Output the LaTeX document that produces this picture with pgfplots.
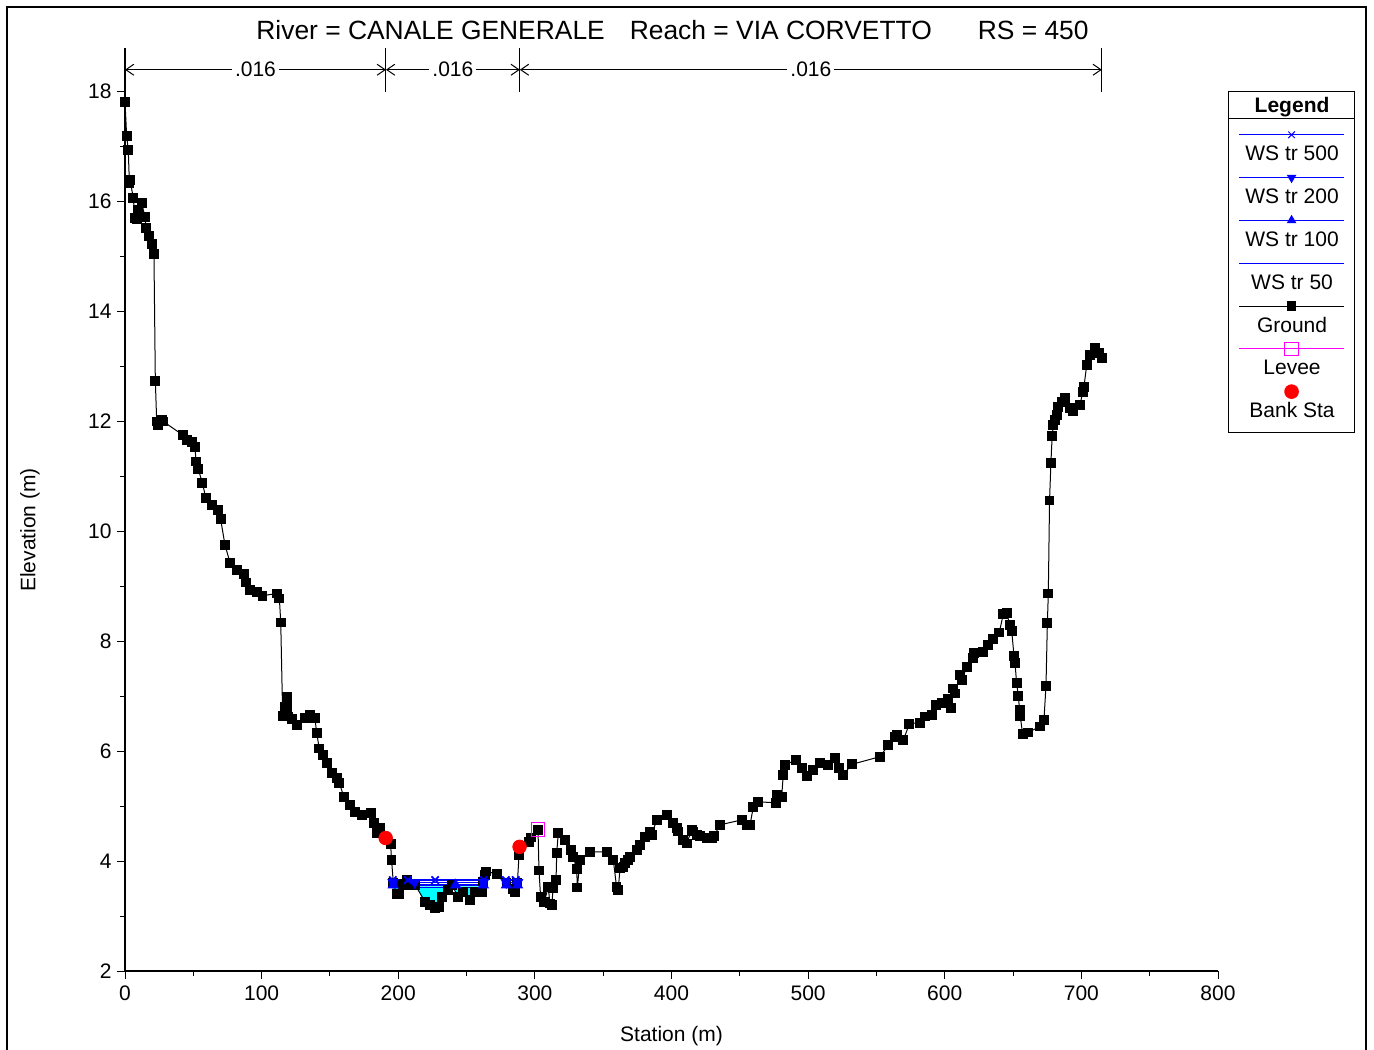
\documentclass[border=0pt]{standalone}
\usepackage{fontspec}
\setmainfont{Liberation Sans}
\usepackage{pgfplots}
\pgfplotsset{compat=1.18}
\usetikzlibrary{arrows.meta}

\definecolor{wsblue}{RGB}{0,0,255}
\definecolor{leveecol}{RGB}{255,0,255}
\definecolor{water}{RGB}{0,255,255}
\definecolor{bankred}{RGB}{255,0,0}

% legend entry: line + mark drawn above the text, centred on the box
\pgfplotsset{
  legline/.style={legend image code/.code={%
    \path (0pt,0pt);
    \draw[overlay,mark repeat=2,mark phase=2,##1]
      plot coordinates {(5pt,13pt) (31.25pt,13pt) (57.5pt,13pt)};}},
}

\begin{document}
\begin{tikzpicture}[font=\fontsize{10.5}{12.6}\selectfont]
\useasboundingbox (0pt,0pt) rectangle (687pt,-524.5pt);
\draw[line width=0.9pt] (3.5pt,-540pt) -- (3.5pt,-3.5pt) -- (683pt,-3.5pt) -- (683pt,-540pt);
\node[anchor=base west, font=\fontsize{13.2}{15}\selectfont, inner sep=0pt]
  at (128pt,-19.75pt) {River = CANALE GENERALE\hspace{12.5pt}Reach = VIA CORVETTO\hspace{23pt}RS = 450};

\begin{axis}[
  at={(62.5pt,-485.5pt)}, anchor=south west,
  scale only axis, width=546.5pt, height=461.35pt,
  xmin=0, xmax=800, ymin=2, ymax=18.79,
  axis x line*=bottom, axis y line*=left,
  x axis line style={-}, y axis line style={-},
  axis line style={line width=0.6pt, black},
  xtick={0,100,...,800}, minor xtick={50,150,...,750},
  ytick={2,4,...,18}, minor ytick={3,5,...,17},
  tick align=outside, major tick length=4pt, minor tick length=2.5pt,
  tick style={black, line width=0.5pt},
  /pgf/number format/assume math mode=true,
  tick label style={font=\fontsize{10.5}{12.6}\selectfont},
  yticklabel style={xshift=0.8pt},
  xlabel={Station (m)}, ylabel={Elevation (m)},
  every axis x label/.style={at={(axis description cs:0.5,0)}, anchor=center, yshift=-32.5pt},
  every axis y label/.style={at={(axis description cs:-0.087,0.478)}, rotate=90, anchor=center},
  clip=false,
  unbounded coords=jump,
  legend style={at={(axis description cs:1.0092,0.9537)}, anchor=north west,
    inner sep=0pt, draw=black, line width=0.5pt, fill=white,
    column sep=0pt, row sep=0pt, cells={anchor=base},
    nodes={minimum width=62.5pt, inner sep=0pt, text height=21.15pt, text depth=0.2pt,
      font=\fontsize{10.5}{12.6}\selectfont}},
]

% water under the profiles
\addplot[fill=water, draw=none, forget plot] coordinates {
  (196.3,3.54) (198.8,3.40) (200.8,3.40) (202.5,3.54) (213,3.54)
  (219.6,3.26) (223.2,3.20) (226.9,3.14) (230.0,3.16) (231.8,3.35)
  (236.6,3.47) (238.0,3.54) (240.8,3.54) (244.0,3.35) (247.6,3.44)
  (252.5,3.29) (256.2,3.44) (261.1,3.44) (262.0,3.54)
};
\addplot[fill=water, draw=none, forget plot] coordinates {
  (279.5,3.54) (283.7,3.49) (285.4,3.44) (286.8,3.54)
};

% ground
\addplot[black, line width=0.5pt, mark=square*, mark size=2.2pt,
  mark options={fill=black}, forget plot] coordinates {
  (0,17.82) (1.2,17.20) (2.4,16.94) (3.2,16.34) (3.7,16.40) (6.1,16.06)
  (7.3,15.70) (8.5,15.68) (9.8,15.85) (12.2,15.98) (14.6,15.72) (15.4,15.52)
  (17.8,15.37) (19.5,15.23) (21.2,15.04) (22.2,12.74) (23.2,12.00) (24.4,11.94)
  (26.8,12.02) (28.0,12.00) (42.5,11.75) (45.6,11.66) (48.8,11.63) (51.2,11.54)
  (52.0,11.27) (53.7,11.13) (56.6,10.88) (59.3,10.60) (63.4,10.48) (68.3,10.39)
  (70.0,10.22) (73.2,9.75) (76.9,9.43) (82.2,9.30) (87.1,9.23) (88.6,9.07)
  (91.5,8.93) (96.4,8.89) (100.7,8.83) (111.5,8.87) (113.0,8.78) (114.0,8.34)
  (115.4,6.64) (117.0,6.80) (118.3,6.99) (119.0,6.80) (119.5,6.63) (122.0,6.58)
  (125.7,6.48) (131.7,6.60) (135.4,6.66) (139.0,6.60) (140.3,6.33) (142.2,6.05)
  (145.2,5.93) (147.6,5.78) (151.3,5.60) (155.0,5.51) (156.9,5.42) (160.3,5.16)
  (164.7,5.02) (168.3,4.90) (173.2,4.84) (179.8,4.87) (182.5,4.69) (184.2,4.51)
  (186.6,4.60) (190.8,4.42) (194.4,4.31) (195.1,4.02) (196.4,3.60) (198.8,3.40)
  (200.8,3.40) (203.5,3.58) (206.2,3.66) (208.1,3.57) (212.3,3.57) (219.6,3.26)
  (223.2,3.20) (226.9,3.14) (230.0,3.16) (231.8,3.35) (236.6,3.47) (239.1,3.57)
  (244.0,3.35) (247.6,3.44) (252.5,3.29) (256.2,3.44) (261.1,3.44) (262.3,3.63)
  (263.5,3.75) (264.2,3.81) (272.0,3.77) (279.3,3.60) (283.7,3.49) (285.4,3.44)
  (287.2,3.60) (288.4,4.11) (288.8,4.26) (295.6,4.35) (297.4,4.43) (302.3,4.57)
  (303.0,3.83) (304.2,3.35) (306.9,3.26) (309.8,3.53) (311.0,3.23) (312.3,3.20)
  (313.4,3.50) (315.5,3.66) (316.0,4.15) (317.1,4.51) (322.0,4.38) (326.2,4.20)
  (328.1,4.08) (330.6,3.85) (331.1,3.52) (333.0,4.02) (340.3,4.17) (352.5,4.17)
  (357.4,4.02) (359.8,3.53) (361.0,3.47) (362.3,3.87) (364.8,3.90) (366.0,3.96)
  (368.4,4.02) (369.6,4.08) (374.5,4.20) (376.9,4.29) (380.6,4.44) (384.3,4.54)
  (385.5,4.48) (389.2,4.75) (396.9,4.84) (401.3,4.70) (403.8,4.60) (405.0,4.54)
  (408.6,4.38) (411.1,4.32) (414.8,4.57) (416.0,4.54) (418.4,4.48) (420.9,4.45)
  (425.8,4.42) (429.4,4.42) (431.0,4.45) (435.5,4.66) (451.4,4.75) (455.0,4.66)
  (457.5,4.66) (459.9,4.99) (463.5,5.08) (476.5,5.06) (477.0,5.20) (480.6,5.16)
  (481.8,5.57) (483.1,5.75) (491.1,5.84) (495.3,5.69) (498.9,5.55) (503.8,5.66)
  (508.7,5.78) (514.8,5.75) (519.7,5.87) (522.8,5.69) (525.8,5.57) (531.9,5.76)
  (552.6,5.90) (558.7,6.11) (563.6,6.26) (564.8,6.30) (569.7,6.20) (574.1,6.50)
  (581.9,6.52) (585.5,6.63) (590.4,6.66) (593.6,6.84) (597.7,6.87) (602.6,6.96)
  (604.3,6.78) (606.3,7.14) (607.5,7.05) (611.1,7.39) (612.4,7.30) (616.1,7.53)
  (620.9,7.69) (621.5,7.79) (628.2,7.81) (631.9,7.93) (635.1,8.04) (639.9,8.16)
  (642.9,8.50) (645.3,8.51) (647.7,8.30) (649.0,8.19) (650.7,7.73) (651.4,7.61)
  (652.6,7.24) (653.8,7.01) (654.8,6.75) (655.3,6.63) (657.0,6.31) (661.1,6.34)
  (669.7,6.45) (672.6,6.57) (674.1,7.19) (675.1,8.33) (675.8,8.87) (676.7,10.56)
  (677.7,11.25) (678.6,11.73) (679.5,11.94) (680.7,12.03) (681.9,12.12) (683.1,12.27)
  (685.5,12.36) (688.0,12.42) (691.7,12.24) (694.1,12.18) (699.0,12.30) (701.0,12.54)
  (701.9,12.63) (703.9,13.03) (706.3,13.21) (709.9,13.33) (713.0,13.24) (715.0,13.16)
};

% water surfaces
\addplot[wsblue, line width=0.9pt, forget plot] coordinates {
  (196.4,3.52) (262.2,3.52) (270,nan) (279.5,3.52) (287.2,3.52)};
\addplot[wsblue, line width=0.9pt, mark=triangle*, mark size=2.4pt, forget plot] coordinates {
  (196.3,3.565) (242,3.565) (262.3,3.565) (270,nan) (279.2,3.565) (287.3,3.565)};
\addplot[wsblue, line width=0.9pt, mark=triangle*, mark size=2.4pt,
  mark options={rotate=180}, forget plot] coordinates {
  (196.2,3.61) (212,3.61) (262.4,3.61) (270,nan) (279,3.61) (287.4,3.61)};
\addplot[wsblue, line width=0.9pt, mark=x, mark size=2.6pt, forget plot] coordinates {
  (196,3.655) (207,3.655) (227,3.655) (262.5,3.655) (270,nan) (278.8,3.655) (286,3.655)};

% levee and bank stations
\addplot[only marks, mark=square, mark size=3.4pt, leveecol, line width=0.5pt, forget plot]
  coordinates {(302.3,4.57)};
\addplot[only marks, mark=*, mark size=3.4pt, bankred, forget plot]
  coordinates {(190.8,4.42) (288.8,4.26)};

% Manning's n regions
\draw[line width=0.5pt] (axis cs:191,18.0) -- (axis cs:191,18.79);
\draw[line width=0.5pt] (axis cs:289,18.0) -- (axis cs:289,18.79);
\draw[line width=0.5pt] (axis cs:715,18.0) -- (axis cs:715,18.79);
\draw[line width=0.5pt, {Straight Barb[length=4pt,width=5.5pt]}-{Straight Barb[length=4pt,width=5.5pt]}]
  (axis cs:0,18.4) -- (axis cs:191,18.4);
\draw[line width=0.5pt, {Straight Barb[length=4pt,width=5.5pt]}-{Straight Barb[length=4pt,width=5.5pt]}]
  (axis cs:191,18.4) -- (axis cs:289,18.4);
\draw[line width=0.5pt, {Straight Barb[length=4pt,width=5.5pt]}-{Straight Barb[length=4pt,width=5.5pt]}]
  (axis cs:289,18.4) -- (axis cs:715,18.4);
\node[fill=white, inner xsep=1.5pt, inner ysep=0.5pt] at (axis cs:95.5,18.4) {.016};
\node[fill=white, inner xsep=1.5pt, inner ysep=0.5pt] at (axis cs:240,18.4) {.016};
\node[fill=white, inner xsep=1.5pt, inner ysep=0.5pt] at (axis cs:502,18.4) {.016};

% legend
\addlegendimage{legend image code/.code={\path (0pt,0pt);
  \draw[overlay, line width=0.5pt] (0pt,-3.2pt) -- (62.5pt,-3.2pt);}}
\addlegendentry[text height=10.3pt, text depth=3.2pt, font=\bfseries\fontsize{10.5}{12.6}\selectfont]{Legend}
\addlegendimage{legline, wsblue, line width=0.5pt, mark=x, mark size=2.3pt}
\addlegendentry{WS tr 500}
\addlegendimage{legline, wsblue, line width=0.5pt, mark=triangle*, mark size=2.3pt, mark options={rotate=180}}
\addlegendentry{WS tr 200}
\addlegendimage{legline, wsblue, line width=0.5pt, mark=triangle*, mark size=2.3pt}
\addlegendentry{WS tr 100}
\addlegendimage{legline, wsblue, line width=0.5pt}
\addlegendentry{WS tr 50}
\addlegendimage{legline, black, line width=0.5pt, mark=square*, mark size=2.2pt, mark options={fill=black}}
\addlegendentry{Ground}
\addlegendimage{legline, leveecol, line width=0.5pt, mark=square, mark size=3.4pt}
\addlegendentry{Levee}
\addlegendimage{legline, only marks, bankred, mark=*, mark size=3.4pt}
\addlegendentry[text depth=7.2pt]{Bank Sta}
\end{axis}
\end{tikzpicture}
\end{document}
